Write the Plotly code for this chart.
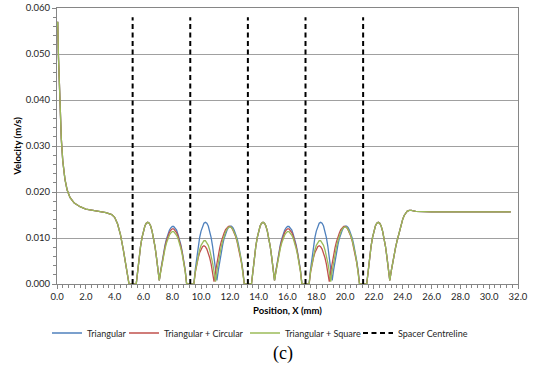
import plotly.graph_objects as go

# ---------------- data ----------------
# entrance region (all three geometries identical)
entry_x = [0.0, 0.05, 0.1, 0.2, 0.3, 0.4, 0.55, 0.7, 0.9, 1.2, 1.6, 2.0, 2.5, 3.0, 3.4, 3.8,
           4.0, 4.2, 4.4, 4.6, 4.8, 5.0, 5.5]
entry_v = [0.0560, 0.0570, 0.0495, 0.0395, 0.0315, 0.0268, 0.0228, 0.0205, 0.0188, 0.0176,
           0.0168, 0.0163, 0.0160, 0.0158, 0.0155, 0.0151, 0.0145, 0.0131, 0.0108, 0.0075,
           0.0038, 0.0, 0.0]

# first hump after a spacer (common) and its positions
hump_common_v = [0.0032, 0.0059, 0.0082, 0.0101, 0.0115, 0.0126, 0.0132, 0.0134, 0.0132,
                 0.0126, 0.0115, 0.0101, 0.0082, 0.0059, 0.0032, 0.0008]
pos_s1_a = [5.6, 5.7, 5.8, 5.9, 6.0, 6.1, 6.2, 6.3, 6.4, 6.5, 6.6, 6.7, 6.8, 6.9, 7.0, 7.1]
pos_s3_a = [13.6, 13.7, 13.8, 13.9, 14.0, 14.1, 14.2, 14.3, 14.4, 14.5, 14.6, 14.7, 14.8, 14.9, 15.0, 15.1]
pos_s5_a = [21.6, 21.7, 21.8, 21.9, 22.0, 22.1, 22.2, 22.3, 22.4, 22.5, 22.6, 22.7, 22.8, 22.9, 23.0, 23.1]

# second hump in sections 1 and 3
pos_s1_b = [7.2, 7.3, 7.4, 7.5, 7.6, 7.7, 7.8, 7.9, 8.0, 8.1, 8.2, 8.3, 8.4, 8.5, 8.6, 8.7, 8.8, 8.9, 9.0, 9.5]
pos_s3_b = [15.2, 15.3, 15.4, 15.5, 15.6, 15.7, 15.8, 15.9, 16.0, 16.1, 16.2, 16.3, 16.4, 16.5, 16.6, 16.7, 16.8, 16.9, 17.0, 17.5]
tri_b_v = [0.0030, 0.0051, 0.0069, 0.0085, 0.0098, 0.0108, 0.0117, 0.0122, 0.0125, 0.0125,
           0.0122, 0.0117, 0.0108, 0.0098, 0.0085, 0.0069, 0.0051, 0.0030, 0.0, 0.0]
cir_b_v = [0.0028, 0.0049, 0.0066, 0.0081, 0.0094, 0.0104, 0.0112, 0.0117, 0.0120, 0.0120,
           0.0117, 0.0112, 0.0104, 0.0094, 0.0081, 0.0066, 0.0049, 0.0028, 0.0, 0.0]
sq_b_v = [0.0027, 0.0046, 0.0063, 0.0077, 0.0089, 0.0099, 0.0106, 0.0111, 0.0114, 0.0114,
          0.0111, 0.0106, 0.0099, 0.0089, 0.0077, 0.0063, 0.0046, 0.0027, 0.0, 0.0]

# first hump in sections 2 and 4
pos_s2_a_tri = [9.6, 9.7, 9.8, 9.9, 10.0, 10.1, 10.2, 10.3, 10.4, 10.5, 10.6, 10.7, 10.8, 10.9, 11.0, 11.1]
pos_s2_a_cir = [9.6, 9.7, 9.8, 9.9, 10.0, 10.1, 10.2, 10.3, 10.4, 10.5, 10.6, 10.7, 10.8, 10.9]
pos_s2_a_sq = [9.6, 9.7, 9.8, 9.9, 10.0, 10.1, 10.2, 10.3, 10.4, 10.5, 10.6, 10.7, 10.8, 10.9, 11.0]
pos_s4_a_tri = [17.6, 17.7, 17.8, 17.9, 18.0, 18.1, 18.2, 18.3, 18.4, 18.5, 18.6, 18.7, 18.8, 18.9, 19.0, 19.1]
pos_s4_a_cir = [17.6, 17.7, 17.8, 17.9, 18.0, 18.1, 18.2, 18.3, 18.4, 18.5, 18.6, 18.7, 18.8, 18.9]
pos_s4_a_sq = [17.6, 17.7, 17.8, 17.9, 18.0, 18.1, 18.2, 18.3, 18.4, 18.5, 18.6, 18.7, 18.8, 18.9, 19.0]
cir_c_v = [0.0025, 0.0043, 0.0057, 0.0068, 0.0076, 0.0081, 0.0083, 0.0081, 0.0076, 0.0068,
           0.0057, 0.0043, 0.0025, 0.0005]
sq_c_v = [0.0027, 0.0046, 0.0061, 0.0074, 0.0084, 0.0090, 0.0094, 0.0094, 0.0090, 0.0084,
          0.0074, 0.0061, 0.0046, 0.0027, 0.0005]

# second hump in sections 2 and 4
pos_s2_b_tri = [11.2, 11.3, 11.4, 11.5, 11.6, 11.7, 11.8, 11.9, 12.0, 12.1, 12.2, 12.3, 12.4, 12.5, 12.6, 12.7, 12.8, 12.9, 13.0, 13.5]
pos_s2_b_cir = [11.0, 11.1, 11.2, 11.3, 11.4, 11.5, 11.6, 11.7, 11.8, 11.9, 12.0, 12.1, 12.2, 12.3, 12.4, 12.5, 12.6, 12.7, 12.8, 12.9, 13.0, 13.5]
pos_s2_b_sq = [11.1, 11.2, 11.3, 11.4, 11.5, 11.6, 11.7, 11.8, 11.9, 12.0, 12.1, 12.2, 12.3, 12.4, 12.5, 12.6, 12.7, 12.8, 12.9, 13.0, 13.5]
pos_s4_b_tri = [19.2, 19.3, 19.4, 19.5, 19.6, 19.7, 19.8, 19.9, 20.0, 20.1, 20.2, 20.3, 20.4, 20.5, 20.6, 20.7, 20.8, 20.9, 21.0, 21.5]
pos_s4_b_cir = [19.0, 19.1, 19.2, 19.3, 19.4, 19.5, 19.6, 19.7, 19.8, 19.9, 20.0, 20.1, 20.2, 20.3, 20.4, 20.5, 20.6, 20.7, 20.8, 20.9, 21.0, 21.5]
pos_s4_b_sq = [19.1, 19.2, 19.3, 19.4, 19.5, 19.6, 19.7, 19.8, 19.9, 20.0, 20.1, 20.2, 20.3, 20.4, 20.5, 20.6, 20.7, 20.8, 20.9, 21.0, 21.5]
tri_d_v = [0.0030, 0.0051, 0.0070, 0.0085, 0.0099, 0.0109, 0.0117, 0.0123, 0.0126, 0.0126,
           0.0123, 0.0117, 0.0109, 0.0099, 0.0085, 0.0070, 0.0051, 0.0030, 0.0, 0.0]
cir_d_v = [0.0027, 0.0047, 0.0064, 0.0079, 0.0092, 0.0103, 0.0111, 0.0118, 0.0123, 0.0125, 0.0125,
           0.0123, 0.0118, 0.0111, 0.0103, 0.0092, 0.0079, 0.0064, 0.0047, 0.0027, 0.0, 0.0]
sq_d_v = [0.0028, 0.0048, 0.0066, 0.0081, 0.0094, 0.0105, 0.0113, 0.0119, 0.0123, 0.0124,
          0.0123, 0.0119, 0.0113, 0.0105, 0.0094, 0.0081, 0.0066, 0.0048, 0.0028, 0.0, 0.0]

# exit region (common)
exit_x = [23.2, 23.3, 23.4, 23.5, 23.6, 23.7, 23.8, 23.9, 24.0, 24.1, 24.2, 24.3, 24.45, 24.6,
          24.9, 25.3, 26.0, 28.0, 30.0, 31.5]
exit_v = [0.0028, 0.0047, 0.0064, 0.0079, 0.0093, 0.0106, 0.0119, 0.0131, 0.0141, 0.0149,
          0.0155, 0.0158, 0.0160, 0.0160, 0.0158, 0.01572, 0.01568, 0.01568, 0.01568, 0.01568]

# spacer centrelines
spacer_x = [5.25, 9.25, 13.25, 17.25, 21.25]
spacer_top = 0.058

series_names = ["Triangular", "Triangular + Circular", "Triangular + Square"]
series_colors = ["#4F81BD", "#C0504D", "#9BBB59"]

# ---------------- assemble series ----------------
tri_x = (entry_x + pos_s1_a + pos_s1_b + pos_s2_a_tri + pos_s2_b_tri + pos_s3_a + pos_s3_b
         + pos_s4_a_tri + pos_s4_b_tri + pos_s5_a + exit_x)
tri_v = (entry_v + hump_common_v + tri_b_v + hump_common_v + tri_d_v + hump_common_v + tri_b_v
         + hump_common_v + tri_d_v + hump_common_v + exit_v)
cir_x = (entry_x + pos_s1_a + pos_s1_b + pos_s2_a_cir + pos_s2_b_cir + pos_s3_a + pos_s3_b
         + pos_s4_a_cir + pos_s4_b_cir + pos_s5_a + exit_x)
cir_v = (entry_v + hump_common_v + cir_b_v + cir_c_v + cir_d_v + hump_common_v + cir_b_v
         + cir_c_v + cir_d_v + hump_common_v + exit_v)
sq_x = (entry_x + pos_s1_a + pos_s1_b + pos_s2_a_sq + pos_s2_b_sq + pos_s3_a + pos_s3_b
        + pos_s4_a_sq + pos_s4_b_sq + pos_s5_a + exit_x)
sq_v = (entry_v + hump_common_v + sq_b_v + sq_c_v + sq_d_v + hump_common_v + sq_b_v
        + sq_c_v + sq_d_v + hump_common_v + exit_v)

font_main = "Lato, 'Open Sans', sans-serif"
legend_keys = ["legend", "legend2", "legend3", "legend4"]
legend_xpos = [-0.0217, 0.1453, 0.4078, 0.6529]

fig = go.Figure()
for name, color, xs, vs, lg in zip(series_names, series_colors,
                                   [tri_x, cir_x, sq_x], [tri_v, cir_v, sq_v], legend_keys):
    fig.add_trace(go.Scatter(x=xs, y=vs, mode="lines", name=name, legend=lg,
                             line=dict(color=color, width=1.3)))

sx, sy = [], []
for p in spacer_x:
    sx += [p, p, None]
    sy += [0, spacer_top, None]
fig.add_trace(go.Scatter(x=sx, y=sy, mode="lines", name="Spacer Centreline", legend="legend4",
                         line=dict(color="black", width=2.0, dash="5px,3.5px")))

axis_common = dict(showline=True, linecolor="#868686", linewidth=1, mirror=True,
                   ticks="outside", ticklen=4, tickcolor="#868686", automargin=False,
                   tickfont=dict(family=font_main, size=9.5, color="#262626"),
                   zeroline=False)

fig.update_xaxes(range=[0, 32], dtick=2, tick0=0, tickformat=".1f", showgrid=False,
                 minor=dict(ticks="outside", ticklen=3, dtick=0.4, tickcolor="#868686"),
                 title=dict(text="<b>Position, X (mm)</b>", standoff=5,
                            font=dict(family=font_main, size=9.5, color="#000000")),
                 **axis_common)
fig.update_yaxes(range=[0, 0.06], dtick=0.01, tickformat=".3f", showgrid=True,
                 gridcolor="#A0A0A0", gridwidth=1,
                 minor=dict(ticks="outside", ticklen=3, dtick=0.002, tickcolor="#868686"),
                 title=dict(text="<b>Velocity (m/s)</b>", standoff=2,
                            font=dict(family=font_main, size=9.5, color="#000000")),
                 **axis_common)

legend_style = dict(orientation="h", xanchor="left", y=-0.1775, yanchor="middle",
                    font=dict(family=font_main, size=9, color="#262626"),
                    itemwidth=30, bgcolor="rgba(0,0,0,0)")
legend_layout = {k: dict(x=xv, **legend_style) for k, xv in zip(legend_keys, legend_xpos)}

fig.update_layout(
    width=534, height=383,
    margin=dict(l=57, r=16, t=8, b=99),
    paper_bgcolor="white", plot_bgcolor="white",
    showlegend=True, hovermode=False,
    annotations=[dict(text="(c)", x=0.49, y=-0.25, xref="paper", yref="paper",
                      xanchor="center", yanchor="middle", showarrow=False,
                      font=dict(family="'Liberation Serif', 'Times New Roman', serif",
                                size=18, color="black"))],
    **legend_layout,
)

fig.write_html("out.html", config={"displayModeBar": False},
               post_script="document.body.style.margin='0px';")
